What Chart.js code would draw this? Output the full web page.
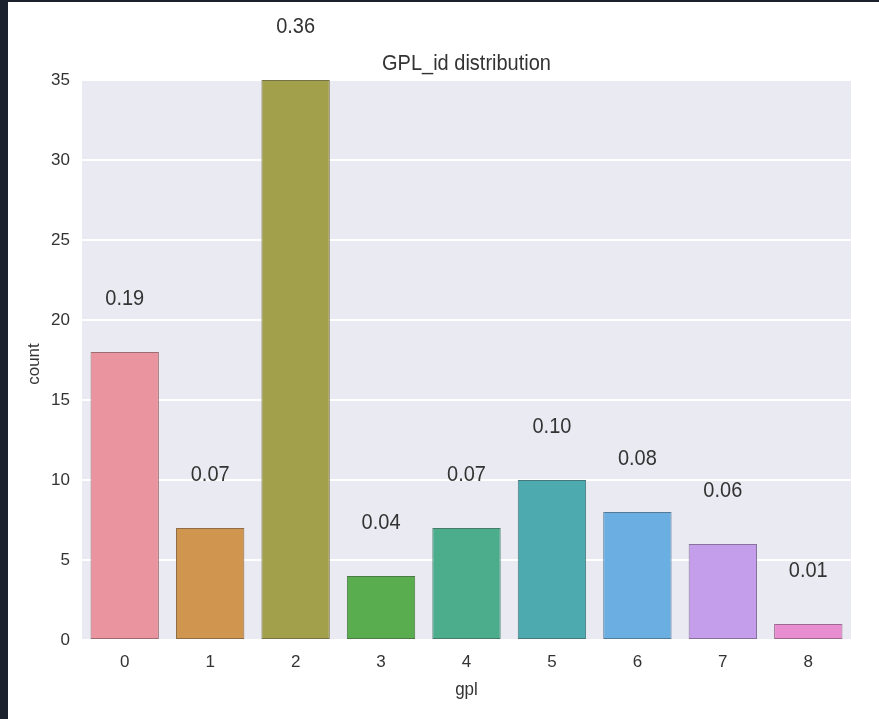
<!DOCTYPE html>
<html>
<head>
<meta charset="utf-8">
<script src="https://cdn.jsdelivr.net/npm/chart.js@4"></script>
<style>
  html, body { margin: 0; padding: 0; background: #fff; }
  #wrap { width: 879px; height: 719px; position: relative; }
</style>
</head>
<body>
<div id="wrap"><canvas id="gplChart"></canvas></div>
<script>
// data
const categories = ['0', '1', '2', '3', '4', '5', '6', '7', '8'];
const counts = [18, 7, 35, 4, 7, 10, 8, 6, 1];
const shares = ['0.19', '0.07', '0.36', '0.04', '0.07', '0.10', '0.08', '0.06', '0.01'];
const yTicks = [0, 5, 10, 15, 20, 25, 30, 35];
const barColors = ['#e9949f', '#d0954f', '#a3a04b', '#5aad4e', '#4cad8c', '#4dabb0', '#6aaee2', '#c49deb', '#e88ed0'];

const FONT = '"Liberation Sans", Arial, sans-serif';
const TEXT = '#333333';

// darker, greyer edge of each bar
function shade(hex, f) {
  const n = parseInt(hex.slice(1), 16);
  const mix = c => Math.round((c * 0.7 + 120 * 0.3) * f);
  const r = mix((n >> 16) & 255);
  const g = mix((n >> 8) & 255);
  const b = mix(n & 255);
  return `rgb(${r},${g},${b})`;
}
const edgeColors = barColors.map(c => shade(c, 0.78));

// text slightly taller than wide, as in the picture
function tallText(ctx, txt, x, y, sy) {
  ctx.save();
  ctx.translate(x, y);
  ctx.scale(1, sy);
  ctx.fillText(txt, 0, 0);
  ctx.restore();
}

// page frame, grey plot background and the texts
const decor = {
  id: 'decor',
  beforeDraw(chart) {
    const { ctx, chartArea: a } = chart;
    ctx.save();
    ctx.fillStyle = '#ffffff';
    ctx.fillRect(0, 0, chart.width, chart.height);
    ctx.fillStyle = '#1b212d';
    ctx.fillRect(0, 0, 8, chart.height);
    ctx.fillRect(0, 0, chart.width, 2);
    ctx.fillStyle = '#eaeaf2';
    ctx.fillRect(a.left, a.top, a.right - a.left, a.bottom - a.top);
    ctx.restore();
  },
  afterDraw(chart) {
    const { ctx, chartArea: a } = chart;
    const xs = chart.scales.x, ys = chart.scales.y;
    ctx.save();
    ctx.fillStyle = TEXT;
    ctx.textAlign = 'center';
    // title
    ctx.font = '20px ' + FONT;
    ctx.textBaseline = 'middle';
    tallText(ctx, 'GPL_id distribution', (a.left + a.right) / 2, 64, 1.12);
    // share labels above bars
    ctx.textBaseline = 'alphabetic';
    counts.forEach((v, i) => {
      tallText(ctx, shares[i], xs.getPixelForValue(i), ys.getPixelForValue(v + 3) + 1, 1.12);
    });
    // axis titles
    ctx.font = '17px ' + FONT;
    ctx.textBaseline = 'middle';
    tallText(ctx, 'gpl', (a.left + a.right) / 2, 690, 1.12);
    ctx.translate(34, 364);
    ctx.rotate(-Math.PI / 2);
    ctx.fillText('count', 0, 0);
    ctx.restore();
  }
};

new Chart(document.getElementById('gplChart'), {
  type: 'bar',
  data: {
    labels: categories,
    datasets: [{
      data: counts,
      backgroundColor: barColors,
      borderColor: edgeColors,
      borderWidth: 1,
      borderSkipped: false,
      categoryPercentage: 0.8,
      barPercentage: 1.0
    }]
  },
  options: {
    responsive: true,
    maintainAspectRatio: false,
    animation: false,
    layout: { padding: { top: 80, right: 28, left: 0, bottom: 0 } },
    plugins: {
      legend: { display: false },
      tooltip: { enabled: false }
    },
    scales: {
      x: {
        grid: { display: false, drawTicks: false },
        border: { display: false },
        ticks: { color: TEXT, font: { family: FONT, size: 17 }, padding: 12 },
        afterFit(s) { s.height = 79; }
      },
      y: {
        min: 0,
        max: 35,
        afterBuildTicks(s) { s.ticks = yTicks.map(v => ({ value: v })); },
        grid: { color: '#ffffff', lineWidth: 2, drawTicks: false },
        border: { display: false },
        ticks: { color: TEXT, font: { family: FONT, size: 17 }, padding: 12 },
        afterFit(s) { s.width = 82; }
      }
    }
  },
  plugins: [decor]
});
</script>
</body>
</html>
